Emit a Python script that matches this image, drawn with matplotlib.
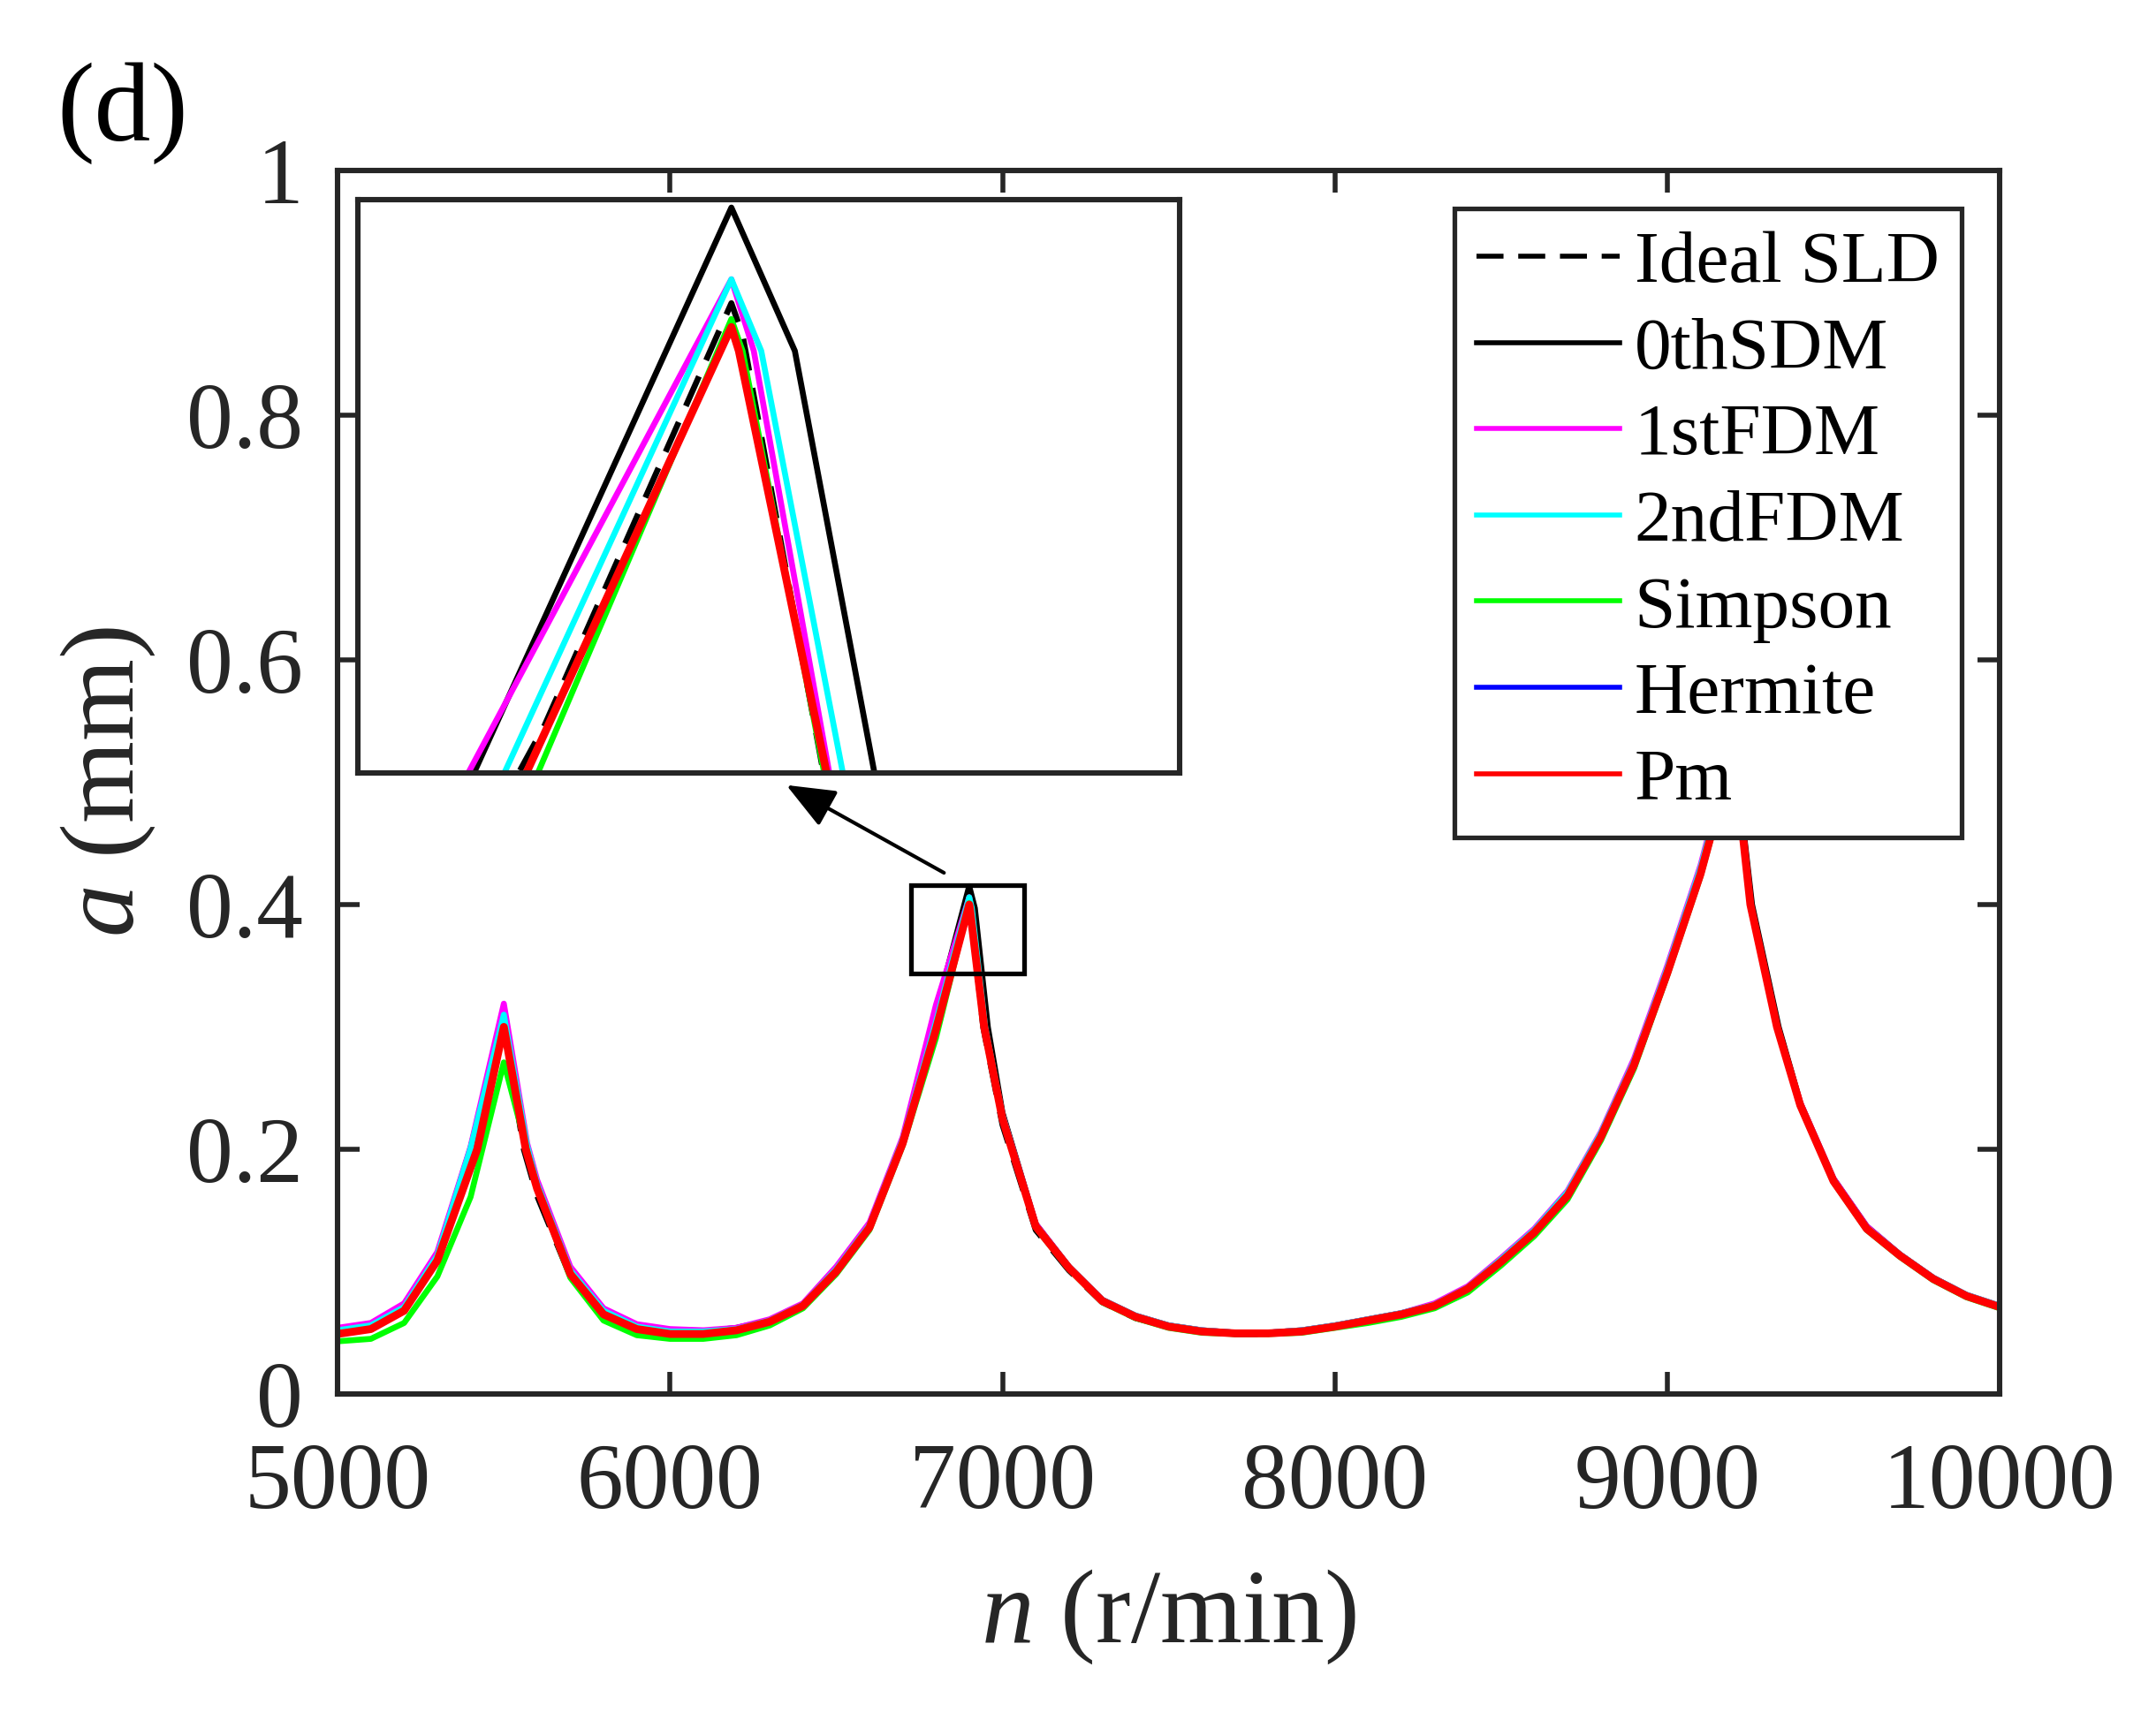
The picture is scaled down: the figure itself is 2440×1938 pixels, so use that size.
import matplotlib
matplotlib.use("Agg")
import matplotlib.pyplot as plt
from matplotlib.patches import Rectangle

plt.rcParams['font.family'] = ['Liberation Serif', 'DejaVu Serif']
plt.rcParams['mathtext.fontset'] = 'custom'
plt.rcParams['mathtext.it'] = 'Liberation Serif:italic'
plt.rcParams['mathtext.rm'] = 'Liberation Serif'

# spindle speed n (r/min) and axial depth a (mm) for every curve
n_ideal = [5000, 5100, 5200, 5300, 5400, 5500, 5560, 5600, 5700, 5800,
           5900, 6000, 6100, 6200, 6300, 6400, 6500, 6600, 6700, 6800,
           6850, 6900, 6903, 6942, 7000, 7100, 7200, 7300, 7400, 7500,
           7600, 7700, 7800, 7900, 8000, 8100, 8200, 8300, 8400, 8500,
           8600, 8700, 8800, 8900, 9000, 9100, 9200, 9250, 9330, 9400,
           9500, 9600, 9700, 9800, 9900, 10000]
a_ideal = [0.050, 0.054, 0.070, 0.112, 0.198, 0.302, 0.200, 0.162, 0.096, 0.066,
           0.054, 0.050, 0.050, 0.053, 0.059, 0.072, 0.101, 0.137, 0.207, 0.307,
           0.350, 0.403, 0.399, 0.300, 0.220, 0.134, 0.101, 0.075, 0.062, 0.055,
           0.051, 0.049, 0.049, 0.051, 0.055, 0.060, 0.065, 0.072, 0.086, 0.107,
           0.131, 0.161, 0.208, 0.267, 0.343, 0.426, 0.530, 0.402, 0.301, 0.236,
           0.174, 0.135, 0.113, 0.094, 0.080, 0.071]

n_0th = [5000, 5100, 5200, 5300, 5400, 5500, 5570, 5600, 5700, 5800,
         5900, 6000, 6100, 6200, 6300, 6400, 6500, 6600, 6700, 6800,
         6900, 6917, 6956, 7000, 7100, 7200, 7300, 7400, 7500, 7600,
         7700, 7800, 7900, 8000, 8100, 8200, 8300, 8400, 8500, 8600,
         8700, 8800, 8900, 9000, 9100, 9200, 9255, 9335, 9400, 9500,
         9600, 9700, 9800, 9900, 10000]
a_0th = [0.052, 0.056, 0.072, 0.114, 0.201, 0.310, 0.200, 0.172, 0.101, 0.068,
         0.056, 0.052, 0.051, 0.054, 0.060, 0.073, 0.102, 0.138, 0.208, 0.312,
         0.415, 0.397, 0.300, 0.230, 0.139, 0.104, 0.077, 0.064, 0.056, 0.052,
         0.050, 0.050, 0.052, 0.056, 0.061, 0.066, 0.073, 0.087, 0.109, 0.133,
         0.164, 0.212, 0.271, 0.347, 0.428, 0.530, 0.400, 0.300, 0.238, 0.176,
         0.137, 0.114, 0.095, 0.081, 0.072]

n_1st = [5000, 5100, 5200, 5300, 5400, 5500, 5570, 5600, 5700, 5800,
         5900, 6000, 6100, 6200, 6300, 6400, 6500, 6600, 6700, 6800,
         6900, 6906, 6943, 7000, 7100, 7200, 7300, 7400, 7500, 7600,
         7700, 7800, 7900, 8000, 8100, 8200, 8300, 8400, 8500, 8600,
         8700, 8800, 8900, 9000, 9100, 9200, 9250, 9330, 9400, 9500,
         9600, 9700, 9800, 9900, 10000]
a_1st = [0.054, 0.058, 0.074, 0.116, 0.202, 0.319, 0.205, 0.175, 0.104, 0.070,
         0.057, 0.053, 0.052, 0.054, 0.061, 0.074, 0.104, 0.140, 0.210, 0.318,
         0.406, 0.397, 0.300, 0.228, 0.139, 0.104, 0.077, 0.064, 0.056, 0.052,
         0.050, 0.050, 0.052, 0.056, 0.061, 0.066, 0.074, 0.088, 0.111, 0.135,
         0.166, 0.214, 0.274, 0.350, 0.432, 0.535, 0.400, 0.300, 0.238, 0.176,
         0.137, 0.114, 0.095, 0.081, 0.072]

n_2nd = [5000, 5100, 5200, 5300, 5400, 5500, 5570, 5600, 5700, 5800,
         5900, 6000, 6100, 6200, 6300, 6400, 6500, 6600, 6700, 6800,
         6900, 6908, 6948, 7000, 7100, 7200, 7300, 7400, 7500, 7600,
         7700, 7800, 7900, 8000, 8100, 8200, 8300, 8400, 8500, 8600,
         8700, 8800, 8900, 9000, 9100, 9200, 9250, 9330, 9400, 9500,
         9600, 9700, 9800, 9900, 10000]
a_2nd = [0.052, 0.056, 0.071, 0.113, 0.201, 0.310, 0.203, 0.172, 0.101, 0.068,
         0.055, 0.051, 0.051, 0.053, 0.060, 0.073, 0.102, 0.138, 0.208, 0.304,
         0.406, 0.397, 0.300, 0.228, 0.138, 0.104, 0.077, 0.064, 0.056, 0.052,
         0.050, 0.050, 0.052, 0.056, 0.061, 0.066, 0.073, 0.087, 0.110, 0.134,
         0.165, 0.213, 0.272, 0.348, 0.430, 0.532, 0.400, 0.300, 0.237, 0.175,
         0.136, 0.114, 0.095, 0.081, 0.072]

n_simpson = [5000, 5100, 5200, 5300, 5400, 5500, 5566, 5600, 5700, 5800,
             5900, 6000, 6100, 6200, 6300, 6400, 6500, 6600, 6700, 6800,
             6900, 6903, 6943, 7000, 7100, 7200, 7300, 7400, 7500, 7600,
             7700, 7800, 7900, 8000, 8100, 8200, 8300, 8400, 8500, 8600,
             8700, 8800, 8900, 9000, 9100, 9200, 9250, 9330, 9400, 9500,
             9600, 9700, 9800, 9900, 10000]
a_simpson = [0.043, 0.045, 0.058, 0.096, 0.161, 0.271, 0.203, 0.168, 0.095, 0.060,
             0.048, 0.045, 0.045, 0.048, 0.056, 0.070, 0.098, 0.134, 0.203, 0.291,
             0.401, 0.397, 0.300, 0.224, 0.136, 0.102, 0.075, 0.062, 0.054, 0.050,
             0.049, 0.049, 0.050, 0.054, 0.058, 0.063, 0.070, 0.083, 0.105, 0.129,
             0.159, 0.207, 0.266, 0.342, 0.423, 0.522, 0.400, 0.300, 0.235, 0.173,
             0.134, 0.112, 0.093, 0.079, 0.070]

n_pm = [5000, 5100, 5200, 5300, 5420, 5500, 5566, 5600, 5700, 5800,
        5900, 6000, 6100, 6200, 6300, 6400, 6500, 6600, 6700, 6800,
        6900, 6902, 6945, 7000, 7100, 7200, 7300, 7400, 7500, 7600,
        7700, 7800, 7900, 8000, 8100, 8200, 8300, 8400, 8500, 8600,
        8700, 8800, 8900, 9000, 9100, 9200, 9250, 9330, 9400, 9500,
        9600, 9700, 9800, 9900, 10000]
a_pm = [0.049, 0.053, 0.068, 0.109, 0.200, 0.300, 0.200, 0.168, 0.098, 0.065,
        0.053, 0.049, 0.049, 0.052, 0.059, 0.072, 0.100, 0.136, 0.205, 0.298,
        0.400, 0.397, 0.300, 0.225, 0.137, 0.103, 0.076, 0.063, 0.055, 0.051,
        0.0495, 0.0495, 0.051, 0.055, 0.060, 0.065, 0.072, 0.086, 0.108, 0.132,
        0.162, 0.210, 0.269, 0.344, 0.425, 0.525, 0.400, 0.300, 0.236, 0.174,
        0.135, 0.113, 0.094, 0.080, 0.071]

# Hermite lies on Pm at this scale
n_hermite = n_pm
a_hermite = [0.049, 0.053, 0.068, 0.109, 0.200, 0.300, 0.200, 0.168, 0.098, 0.065,
             0.053, 0.049, 0.049, 0.052, 0.059, 0.072, 0.100, 0.136, 0.205, 0.298,
             0.400, 0.397, 0.300, 0.225, 0.137, 0.103, 0.076, 0.063, 0.055, 0.051,
             0.0495, 0.0495, 0.051, 0.055, 0.060, 0.065, 0.072, 0.086, 0.108, 0.132,
             0.162, 0.210, 0.269, 0.344, 0.425, 0.525, 0.400, 0.300, 0.236, 0.174,
             0.135, 0.113, 0.094, 0.080, 0.071]

labels = ['Ideal SLD', '0thSDM', '1stFDM', '2ndFDM', 'Simpson', 'Hermite', 'Pm']
colors = ['black', 'black', '#ff00ff', '#00ffff', '#00ff00', '#0000ff', '#ff0000']
curves = [(n_ideal, a_ideal), (n_0th, a_0th), (n_1st, a_1st), (n_2nd, a_2nd),
          (n_simpson, a_simpson), (n_hermite, a_hermite), (n_pm, a_pm)]

xticks = [5000, 6000, 7000, 8000, 9000, 10000]
yticks = [0, 0.2, 0.4, 0.6, 0.8, 1]
yticklabels = ['0', '0.2', '0.4', '0.6', '0.8', '1']

# zoomed window around the second lobe peak
zoom_box = (6726, 0.344, 338, 0.072)
inset_xlim = (6800, 7020)
inset_ylim = (0.344, 0.416)

axcol = '#262626'


def draw_curves(ax):
    lines = []
    for (xs, ys), lab, col in zip(curves, labels, colors):
        lw = 3.2 if lab == 'Pm' else 2.4
        if lab == 'Ideal SLD':
            ln, = ax.plot(xs, ys, color=col, lw=lw, dashes=(5.5, 3.0), label=lab)
        else:
            ln, = ax.plot(xs, ys, color=col, lw=lw, label=lab)
        lines.append(ln)
    return lines


fig = plt.figure(figsize=(12.2, 9.69), dpi=200)
ax = fig.add_axes([0.1566, 0.1858, 0.7709, 0.7146])
lines = draw_curves(ax)

ax.set_xlim(5000, 10000)
ax.set_ylim(0, 1)
ax.set_xticks(xticks)
ax.set_xticklabels([str(t) for t in xticks])
ax.set_yticks(yticks)
ax.set_yticklabels(yticklabels)
ax.tick_params(direction='in', length=9, width=2.0, colors=axcol,
               labelsize=38, top=True, right=True)
ax.tick_params(axis='x', pad=20)
ax.tick_params(axis='y', pad=14)
for sp in ax.spines.values():
    sp.set_linewidth(2.2)
    sp.set_color(axcol)

ax.set_xlabel(r'$n$ (r/min)', fontsize=43, color=axcol, labelpad=16)
ax.set_ylabel(r'$a$ (mm)', fontsize=43, color=axcol, labelpad=12)

bx, by, bw, bh = zoom_box
ax.add_patch(Rectangle((bx, by), bw, bh, fill=False, lw=1.9, ec='black', zorder=5))
ax.annotate('', xy=(6337, 0.4996), xytext=(6837, 0.424),
            arrowprops=dict(arrowstyle='-|>,head_length=0.85,head_width=0.35',
                            mutation_scale=20, lw=1.5, color='black'),
            zorder=5)

leg = ax.legend(handles=lines, loc='upper right', bbox_to_anchor=(0.977, 0.969),
                borderaxespad=0, fontsize=30, labelspacing=0.255, handlelength=1.95,
                handletextpad=0.2, borderpad=0.3, fancybox=False, framealpha=1)
leg.get_frame().set_edgecolor(axcol)
leg.get_frame().set_linewidth(1.9)
for h in leg.get_lines():
    h.set_linewidth(2.0)
leg.set_zorder(10)

# inset
ins = fig.add_axes([0.166, 0.5485, 0.3811, 0.3349])
draw_curves(ins)
ins.set_xlim(*inset_xlim)
ins.set_ylim(*inset_ylim)
ins.set_xticks([])
ins.set_yticks([])
for sp in ins.spines.values():
    sp.set_linewidth(2.2)
    sp.set_color(axcol)

fig.text(0.057, 0.934, '(d)', fontsize=46, ha='center', va='center', color='black')

fig.savefig('out.png', dpi=200)
